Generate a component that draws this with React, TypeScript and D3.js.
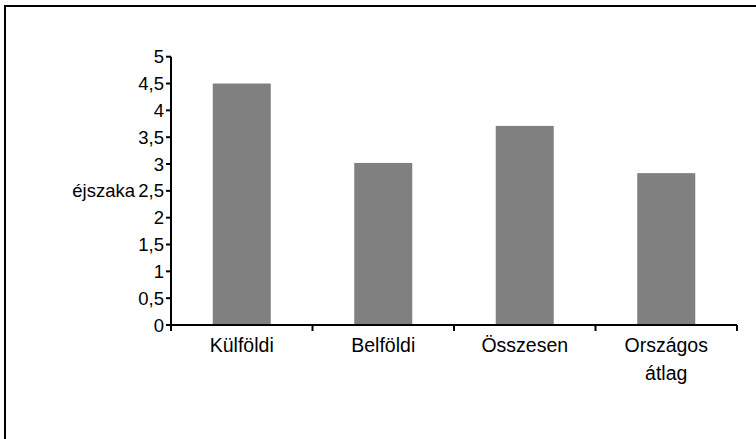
import React from "react";
import * as d3 from "d3";

const categories: string[][] = [["Külföldi"], ["Belföldi"], ["Összesen"], ["Országos", "átlag"]];
const values: number[] = [4.5, 3.02, 3.71, 2.83];
const yTicks: number[] = [0, 0.5, 1, 1.5, 2, 2.5, 3, 3.5, 4, 4.5, 5];
const yTitle = "éjszaka";

const W = 756;
const H = 439;

export default function App() {
  const x = d3
    .scaleBand<number>()
    .domain(categories.map((_, i) => i))
    .range([171, 737])
    .paddingInner(0.59)
    .paddingOuter(0.295);
  const y = d3.scaleLinear().domain([0, 5]).range([325, 56.7]);
  const fmt = (v: number) => String(v).replace(".", ",");
  const step = x.step();
  const x0 = 171;
  const fs = 19.5;
  const fsY = 18.5;
  const font = "'Liberation Sans', Arial, sans-serif";
  return (
    <svg
      width={W}
      height={H}
      style={{ position: "absolute", left: 0, top: 0, background: "#fff" }}
      fontFamily={font}
    >
      <rect x={5} y={6} width={760} height={450} fill="#fff" stroke="#000" strokeWidth={2} />
      {values.map((v, i) => (
        <rect
          key={i}
          x={x(i)!}
          y={y(v)}
          width={x.bandwidth()}
          height={y(0) - y(v)}
          fill="#808080"
        />
      ))}
      {/* y axis */}
      <line x1={x0} x2={x0} y1={y(5)} y2={y(0)} stroke="#000" strokeWidth={2} />
      {yTicks.map((t) => (
        <g key={t}>
          <line x1={x0 - 5} x2={x0} y1={y(t)} y2={y(t)} stroke="#000" strokeWidth={2} />
          <text
            x={x0 - 7}
            y={y(t)}
            textAnchor="end"
            dominantBaseline="central"
            fontSize={fsY}
            fill="#000"
          >
            {fmt(t)}
          </text>
        </g>
      ))}
      <text
        x={135}
        y={y(2.5)}
        textAnchor="end"
        dominantBaseline="central"
        fontSize={fsY}
        fill="#000"
      >
        {yTitle}
      </text>
      {/* x axis */}
      <line x1={x0} x2={737} y1={y(0)} y2={y(0)} stroke="#000" strokeWidth={2} />
      {d3.range(categories.length + 1).map((i) => (
        <line
          key={i}
          x1={x0 + i * step}
          x2={x0 + i * step}
          y1={y(0)}
          y2={y(0) + 6}
          stroke="#000"
          strokeWidth={2}
        />
      ))}
      {categories.map((lines, i) => (
        <text
          key={i}
          x={x(i)! + x.bandwidth() / 2}
          y={345}
          textAnchor="middle"
          fontSize={fs}
          fill="#000"
        >
          {lines.map((l, j) => (
            <tspan key={j} x={x(i)! + x.bandwidth() / 2} dy={j === 0 ? 0 : 28} dominantBaseline="central">
              {l}
            </tspan>
          ))}
        </text>
      ))}
    </svg>
  );
}
